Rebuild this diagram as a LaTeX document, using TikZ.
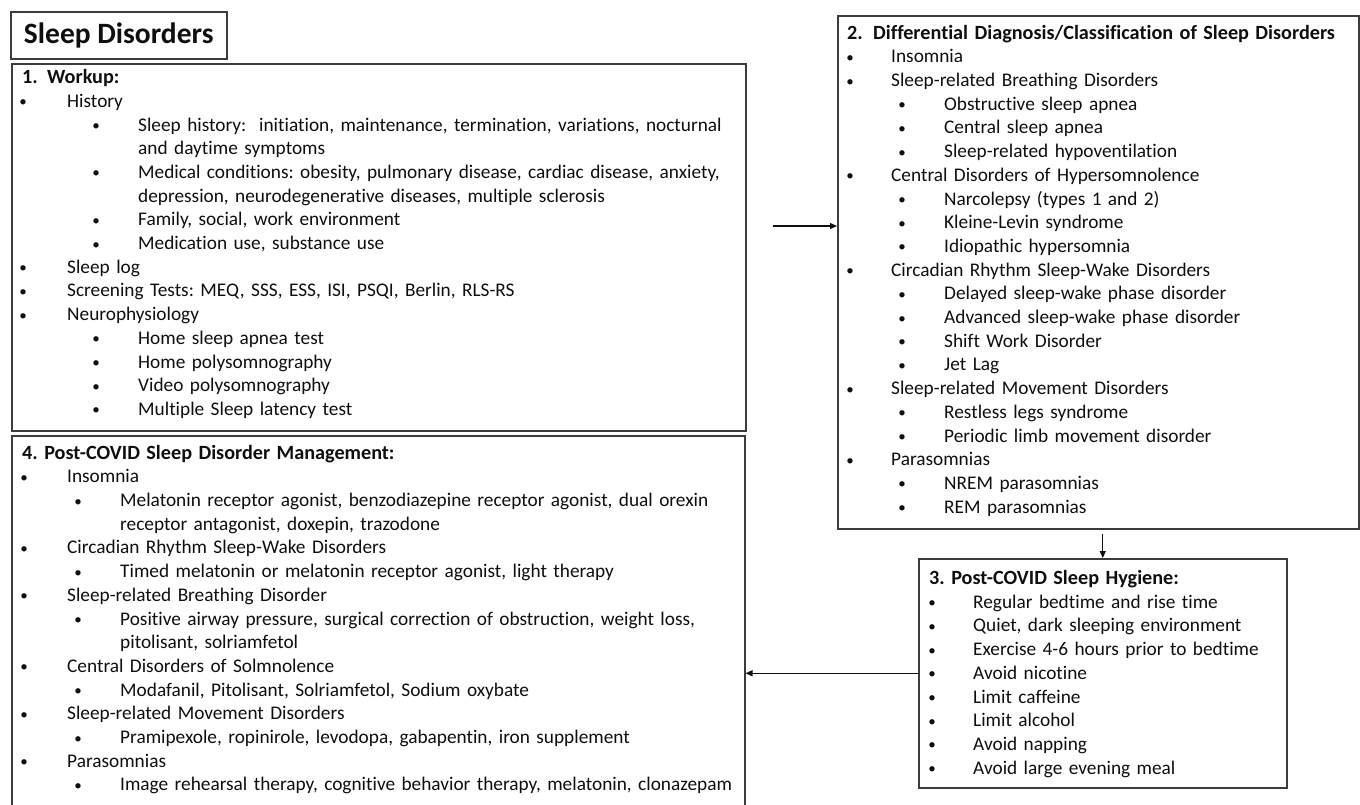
\documentclass[tikz,border=0pt]{standalone}
\usepackage{fontspec}
\setmainfont{Carlito}[Ligatures=NoCommon]
\usepackage{xcolor}
\usetikzlibrary{arrows.meta, positioning, calc}
\definecolor{SDFrame}{RGB}{60, 60, 60}
\definecolor{SDInk}{RGB}{15, 15, 15}

\newlength\SDinA
\newlength\SDbulA
\newlength\SDinB
\newlength\SDbulB
\newcommand{\SDindent}[4]{\setlength\SDinA{#1}\setlength\SDbulA{#2}\setlength\SDinB{#3}\setlength\SDbulB{#4}\frenchspacing\noindent}
\newcommand{\SDdot}{\makebox[0pt][c]{\raisebox{0.5pt}{\fontsize{15}{15}\selectfont •}}}
\newcommand{\SDhead}[1]{{\fontsize{20.2}{23.7}\bfseries #1}}
\newcommand{\SDitemA}[1]{\makebox[\dimexpr\SDinA+\SDbulA\relax][l]{\hspace*{\SDinA}\SDdot}#1}
\newcommand{\SDitemB}[1]{\makebox[\dimexpr\SDinB+\SDbulB\relax][l]{\hspace*{\SDinB}\SDdot}#1}
\newcommand{\SDmoreB}[1]{\makebox[\dimexpr\SDinB+\SDbulB\relax][l]{}#1}

\begin{document}
\begin{tikzpicture}[x=1pt, y=-1pt,
  frame/.style={draw=SDFrame, line width=1.5pt, inner sep=0pt, anchor=north west},
  listtext/.style={anchor=north west, inner sep=0pt, align=left, text width=#1,
    text=SDInk, font=\fontsize{19.3}{23.7}\selectfont},
  conn/.style={draw=SDInk, line width=1.2pt, -{Triangle[length=7pt, width=6pt]}}]
  \path[use as bounding box] (0,0) rectangle (1360,804);
  \fill[white] (0,0) rectangle (1360,804);

  % boxes
  \node[frame, minimum width=216pt, minimum height=47pt, text=SDInk,
    font=\fontsize{29.5}{32}\bfseries] (title) at (10,11) {Sleep Disorders};
  \node[frame, minimum width=734pt, minimum height=367pt] (workup) at (11,63) {};
  \node[frame, minimum width=521pt, minimum height=513pt] (diag) at (837,15) {};
  \node[frame, minimum width=368pt, minimum height=229pt] (hyg) at (918,558) {};
  \node[frame, minimum width=733pt, minimum height=380pt] (manage) at (11,435) {};

  % 1. workup
  \node[listtext=730pt, execute at begin node={\SDindent{1pt}{44pt}{74pt}{42pt}}]
    (workuptext) at ([shift={(11,3.9)}]workup.north west) {%
    \strut\SDhead{\makebox[25pt][l]{1.}Workup:}\\
    \SDitemA{History}\\
    \SDitemB{Sleep history:\ \ initiation, maintenance, termination, variations, nocturnal}\\
    \SDmoreB{and daytime symptoms}\\
    \SDitemB{Medical conditions: obesity, pulmonary disease, cardiac disease, anxiety,}\\
    \SDmoreB{depression, neurodegenerative diseases, multiple sclerosis}\\
    \SDitemB{Family, social, work environment}\\
    \SDitemB{Medication use, substance use}\\
    \SDitemA{Sleep log}\\
    \SDitemA{Screening Tests: MEQ, SSS, ESS, ISI, PSQI, Berlin, RLS-RS}\\
    \SDitemA{Neurophysiology}\\
    \SDitemB{Home sleep apnea test}\\
    \SDitemB{Home polysomnography}\\
    \SDitemB{Video polysomnography}\\
    \SDitemB{Multiple Sleep latency test}};

  % 2. differential diagnosis
  \node[listtext=540pt, execute at begin node={\SDindent{3pt}{41pt}{55pt}{42pt}}]
    (diagtext) at ([shift={(10,7.4)}]diag.north west) {%
    \strut\SDhead{\makebox[26pt][l]{2.}Differential Diagnosis/Classification of Sleep Disorders}\\
    \SDitemA{Insomnia}\\
    \SDitemA{Sleep-related Breathing Disorders}\\
    \SDitemB{Obstructive sleep apnea}\\
    \SDitemB{Central sleep apnea}\\
    \SDitemB{Sleep-related hypoventilation}\\
    \SDitemA{Central Disorders of Hypersomnolence}\\
    \SDitemB{Narcolepsy (types 1 and 2)}\\
    \SDitemB{Kleine-Levin syndrome}\\
    \SDitemB{Idiopathic hypersomnia}\\
    \SDitemA{Circadian Rhythm Sleep-Wake Disorders}\\
    \SDitemB{Delayed sleep-wake phase disorder}\\
    \SDitemB{Advanced sleep-wake phase disorder}\\
    \SDitemB{Shift Work Disorder}\\
    \SDitemB{Jet Lag}\\
    \SDitemA{Sleep-related Movement Disorders}\\
    \SDitemB{Restless legs syndrome}\\
    \SDitemB{Periodic limb movement disorder}\\
    \SDitemA{Parasomnias}\\
    \SDitemB{NREM parasomnias}\\
    \SDitemB{REM parasomnias}};

  % 3. sleep hygiene
  \node[listtext=370pt, execute at begin node={\SDindent{3pt}{41pt}{0pt}{0pt}}]
    (hygtext) at ([shift={(11,9.7)}]hyg.north west) {%
    \strut\SDhead{3. Post-COVID Sleep Hygiene:}\\
    \SDitemA{Regular bedtime and rise time}\\
    \SDitemA{Quiet, dark sleeping environment}\\
    \SDitemA{Exercise 4-6 hours prior to bedtime}\\
    \SDitemA{Avoid nicotine}\\
    \SDitemA{Limit caffeine}\\
    \SDitemA{Limit alcohol}\\
    \SDitemA{Avoid napping}\\
    \SDitemA{Avoid large evening meal}};

  % 4. management
  \node[listtext=730pt, execute at begin node={\SDindent{2pt}{43pt}{56pt}{42pt}}]
    (managetext) at ([shift={(11,7.4)}]manage.north west) {%
    \strut\SDhead{4. Post-COVID Sleep Disorder Management:}\\
    \SDitemA{Insomnia}\\
    \SDitemB{Melatonin receptor agonist, benzodiazepine receptor agonist, dual orexin}\\
    \SDmoreB{receptor antagonist, doxepin, trazodone}\\
    \SDitemA{Circadian Rhythm Sleep-Wake Disorders}\\
    \SDitemB{Timed melatonin or melatonin receptor agonist, light therapy}\\
    \SDitemA{Sleep-related Breathing Disorder}\\
    \SDitemB{Positive airway pressure, surgical correction of obstruction, weight loss,}\\
    \SDmoreB{pitolisant, solriamfetol}\\
    \SDitemA{Central Disorders of Solmnolence}\\
    \SDitemB{Modafanil, Pitolisant, Solriamfetol, Sodium oxybate}\\
    \SDitemA{Sleep-related Movement Disorders}\\
    \SDitemB{Pramipexole, ropinirole, levodopa, gabapentin, iron supplement}\\
    \SDitemA{Parasomnias}\\
    \SDitemB{Image rehearsal therapy, cognitive behavior therapy, melatonin, clonazepam}};

  % connectors
  \coordinate (workupout) at (773,226);
  \coordinate (diagout) at ([yshift=-4pt]diag.south);
  \draw[conn] (workupout) -- (workupout -| diag.west);
  \draw[conn] (diagout -| hyg.north) -- (hyg.north);
  \draw[conn] (hyg.west) -- (hyg.west -| manage.east);
\end{tikzpicture}
\end{document}
